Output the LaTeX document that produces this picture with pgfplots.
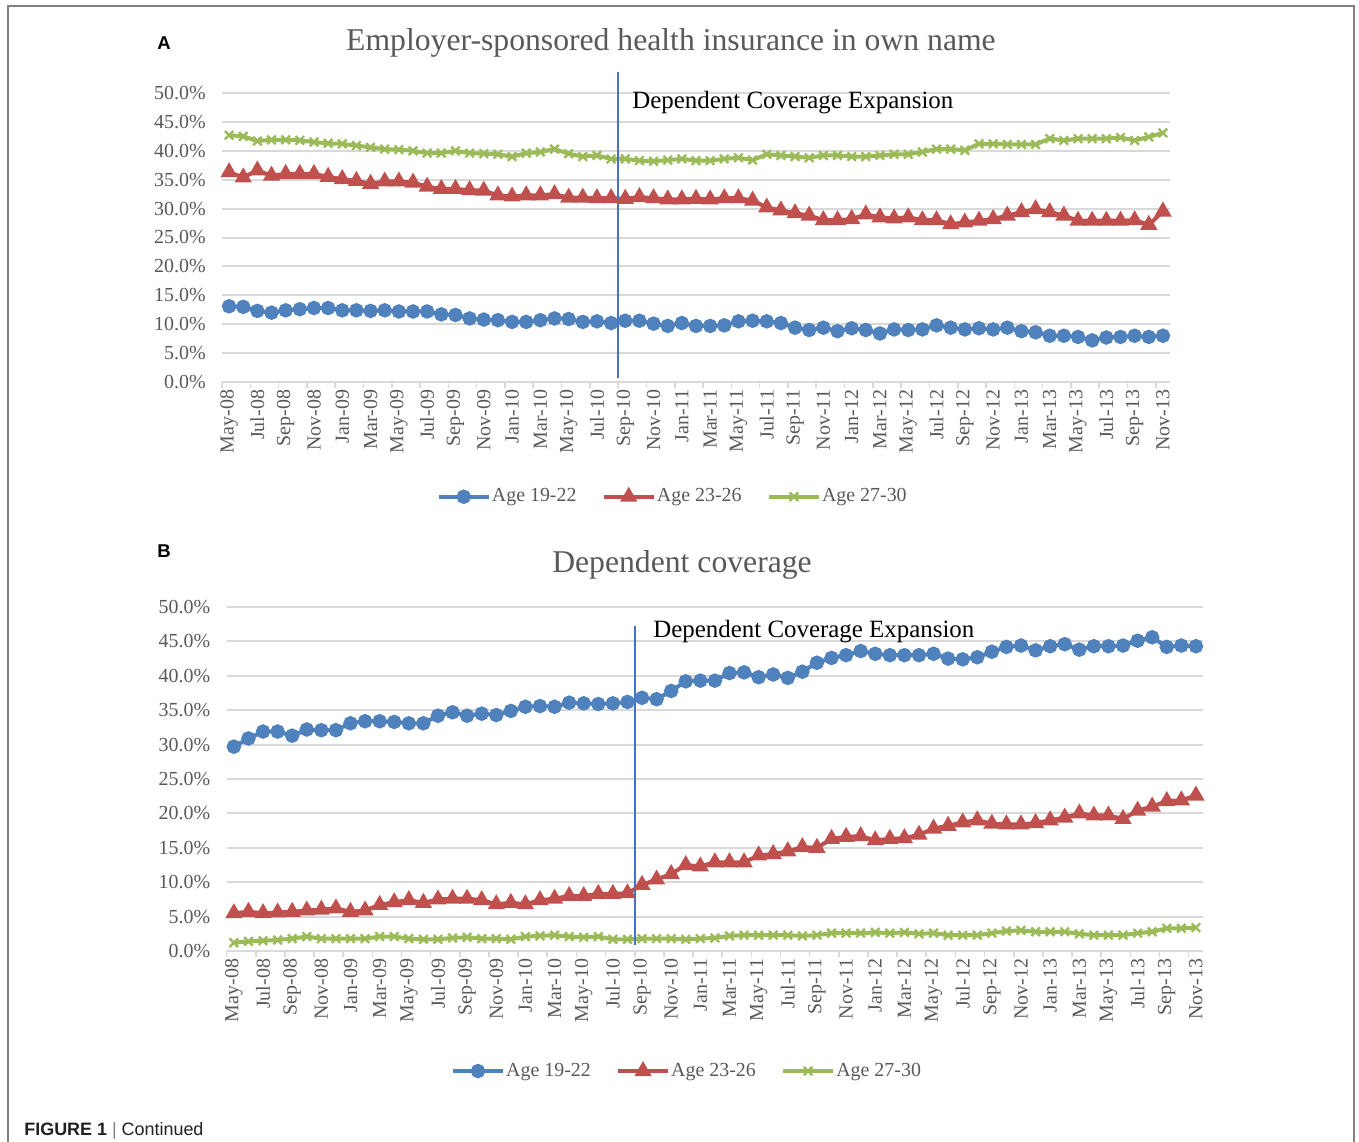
\documentclass[border=0pt]{standalone}
\usepackage{fontspec}
\setmainfont{Liberation Serif}
\setsansfont{Liberation Sans}
\usepackage{pgfplots}
\usepackage{pgfplotstable}
\pgfplotsset{compat=1.18}

\definecolor{ser1}{HTML}{4F81BD}
\definecolor{ser2}{HTML}{C0504D}
\definecolor{ser3}{HTML}{9BBB59}
\definecolor{gridc}{HTML}{D9D9D9}
\definecolor{txt}{HTML}{595959}
\definecolor{vline}{HTML}{4472C4}
\definecolor{framec}{HTML}{808080}
\definecolor{captc}{HTML}{231F20}

% month index 0 = May-08 ... 66 = Nov-13; values in percent
% a = Age 19-22, b = Age 23-26, c = Age 27-30
\pgfplotstableread{
i a b c
0 13.1 36.3 42.7
1 13.0 35.4 42.5
2 12.3 36.6 41.7
3 12.0 35.7 41.9
4 12.4 36.0 41.9
5 12.6 36.0 41.8
6 12.8 36.0 41.5
7 12.8 35.5 41.3
8 12.4 35.1 41.2
9 12.4 34.8 40.9
10 12.3 34.3 40.6
11 12.4 34.7 40.3
12 12.2 34.7 40.2
13 12.2 34.5 40.0
14 12.2 33.8 39.6
15 11.7 33.4 39.6
16 11.6 33.4 40.0
17 11.0 33.2 39.6
18 10.8 33.1 39.5
19 10.7 32.3 39.4
20 10.4 32.1 39.0
21 10.4 32.3 39.6
22 10.7 32.3 39.8
23 11.0 32.5 40.3
24 10.9 31.9 39.5
25 10.4 31.9 39.0
26 10.5 31.8 39.2
27 10.2 31.8 38.6
28 10.6 31.7 38.6
29 10.6 32.0 38.3
30 10.1 31.8 38.2
31 9.7 31.6 38.4
32 10.2 31.6 38.6
33 9.7 31.7 38.3
34 9.7 31.6 38.3
35 9.8 31.8 38.6
36 10.5 31.8 38.8
37 10.6 31.4 38.4
38 10.5 30.2 39.4
39 10.2 29.7 39.2
40 9.4 29.2 39.0
41 9.0 28.8 38.8
42 9.4 28.0 39.2
43 8.8 28.0 39.2
44 9.3 28.2 39.0
45 9.0 29.0 39.0
46 8.4 28.5 39.2
47 9.1 28.3 39.4
48 9.0 28.5 39.4
49 9.1 28.0 39.8
50 9.8 28.0 40.3
51 9.4 27.3 40.3
52 9.1 27.6 40.1
53 9.3 27.9 41.2
54 9.1 28.2 41.2
55 9.4 28.8 41.1
56 8.8 29.4 41.1
57 8.6 29.9 41.1
58 8.0 29.4 42.1
59 8.0 28.8 41.8
60 7.8 27.9 42.1
61 7.2 27.9 42.1
62 7.7 27.9 42.1
63 7.8 27.9 42.3
64 8.0 28.0 41.8
65 7.8 27.2 42.4
66 8.0 29.5 43.1
}\panelA

\pgfplotstableread{
i a b c
0 29.7 5.5 1.2
1 30.9 5.7 1.4
2 31.9 5.5 1.5
3 31.9 5.6 1.6
4 31.3 5.7 1.8
5 32.2 5.9 2.1
6 32.1 6.0 1.8
7 32.1 6.2 1.8
8 33.1 5.7 1.8
9 33.4 5.9 1.8
10 33.4 6.7 2.1
11 33.3 7.1 2.1
12 33.1 7.4 1.8
13 33.1 7.0 1.7
14 34.2 7.5 1.7
15 34.7 7.6 1.9
16 34.2 7.6 2.0
17 34.5 7.4 1.8
18 34.3 6.8 1.8
19 34.9 7.0 1.7
20 35.5 6.8 2.1
21 35.6 7.4 2.2
22 35.5 7.6 2.3
23 36.1 8.0 2.1
24 36.0 8.0 2.0
25 35.9 8.3 2.1
26 36.0 8.3 1.7
27 36.2 8.4 1.7
28 36.8 9.6 1.8
29 36.6 10.4 1.8
30 37.8 11.2 1.8
31 39.2 12.5 1.7
32 39.3 12.3 1.8
33 39.3 12.9 1.9
34 40.4 12.9 2.2
35 40.5 12.9 2.3
36 39.8 13.9 2.3
37 40.2 14.1 2.3
38 39.7 14.5 2.3
39 40.6 15.1 2.2
40 41.9 15.0 2.3
41 42.6 16.3 2.6
42 43.0 16.6 2.6
43 43.6 16.7 2.6
44 43.2 16.1 2.7
45 43.0 16.3 2.6
46 43.0 16.4 2.7
47 43.0 16.9 2.5
48 43.2 17.8 2.6
49 42.5 18.2 2.3
50 42.4 18.7 2.3
51 42.7 19.0 2.3
52 43.5 18.5 2.6
53 44.2 18.4 2.9
54 44.4 18.4 3.0
55 43.7 18.6 2.8
56 44.3 19.0 2.8
57 44.6 19.4 2.8
58 43.8 20.0 2.5
59 44.3 19.7 2.3
60 44.3 19.7 2.3
61 44.4 19.2 2.3
62 45.1 20.4 2.6
63 45.6 21.0 2.8
64 44.2 21.8 3.3
65 44.4 21.9 3.3
66 44.3 22.6 3.4
}\panelB

\pgfplotsset{
  panel/.style={
    scale only axis, anchor=south west, clip=false,
    xmin=-0.5, xmax=66.5, ymin=0, ymax=50,
    xtick={0,2,...,66},
    xticklabels={May-08,Jul-08,Sep-08,Nov-08,Jan-09,Mar-09,May-09,Jul-09,Sep-09,Nov-09,
      Jan-10,Mar-10,May-10,Jul-10,Sep-10,Nov-10,Jan-11,Mar-11,May-11,Jul-11,Sep-11,Nov-11,
      Jan-12,Mar-12,May-12,Jul-12,Sep-12,Nov-12,Jan-13,Mar-13,May-13,Jul-13,Sep-13,Nov-13},
    minor xtick={-0.5,1.5,...,65.5},
    ytick={0,5,...,50},
    yticklabel={\pgfmathprintnumber[fixed,fixed zerofill,precision=1]{\tick}\%},
    /pgf/number format/assume math mode=true,
    axis lines*=left,
    y axis line style={draw=none},
    x axis line style={draw=gridc, line width=1bp},
    ymajorgrids, major grid style={draw=gridc, line width=1bp},
    major tick length=0pt, minor tick length=3bp,
    xtick align=outside,
    minor tick style={draw=gridc, line width=0.8bp},
    tick label style={font=\fontsize{10}{12}\selectfont, text=txt},
    xticklabel style={rotate=90, anchor=east, inner sep=3.8bp},
    yticklabel style={inner sep=0pt, xshift=-8bp},
    legend columns=3,
    legend style={draw=none, fill=none, anchor=center,
      font=\fontsize{10}{12}\selectfont, text=txt,
      nodes={inner xsep=0.6bp},
      /tikz/every even column/.append style={column sep=12bp}},
    legend cell align=left,
    legend image code/.code={
      \draw[mark repeat=2, mark phase=2] plot coordinates {(0bp,0bp) (12.5bp,0bp) (25bp,0bp)};},
  },
  s1/.style={color=ser1, line width=2bp, mark=*, mark size=2.6bp, mark options={solid}},
  s2/.style={color=ser2, line width=2bp, mark=triangle*, mark size=3bp, mark options={solid}},
  s3/.style={color=ser3, line width=2bp, mark=x, mark size=3bp, mark options={solid, line width=1.2bp}},
}

\begin{document}
\begin{tikzpicture}
\path[use as bounding box] (0,0) rectangle (679.5bp,-571bp);
\draw[framec, line width=0.8bp] (4bp,-571bp) -- (4bp,-3bp) -- (677bp,-3bp) -- (677bp,-571bp);

% panel A
\node[anchor=base west, inner sep=0, font=\sffamily\bfseries\fontsize{9.3}{11}\selectfont] at (78.5bp,-24.5bp) {A};
\node[font=\fontsize{15.9}{18}\selectfont, text=txt] at (335.5bp,-21.5bp) {Employer-sponsored health insurance in own name};
\begin{axis}[panel, at={(111bp,-191bp)}, width=474bp, height=144.5bp,
  legend style={at={(0.475,-0.397)}}]
\addplot[s1] table[x=i, y=a] {\panelA};
\addplot[s2] table[x=i, y=b] {\panelA};
\addplot[s3] table[x=i, y=c] {\panelA};
\addplot[vline, line width=0.8bp, no marks, forget plot] coordinates {(27.5,0.7) (27.5,53.6)};
\legend{Age 19-22, Age 23-26, Age 27-30}
\end{axis}
\node[anchor=west, inner sep=0, font=\fontsize{12.5}{15}\selectfont] at (316bp,-51.5bp) {Dependent Coverage Expansion};

% panel B
\node[anchor=base west, inner sep=0, font=\sffamily\bfseries\fontsize{9.3}{11}\selectfont] at (78.5bp,-278.5bp) {B};
\node[font=\fontsize{15.9}{18}\selectfont, text=txt] at (341bp,-282.5bp) {Dependent coverage};
\begin{axis}[panel, at={(113.3bp,-475.5bp)}, width=488.3bp, height=172bp,
  legend style={at={(0.471,-0.349)}}]
\addplot[s1] table[x=i, y=a] {\panelB};
\addplot[s2] table[x=i, y=b] {\panelB};
\addplot[s3] table[x=i, y=c] {\panelB};
\addplot[vline, line width=0.8bp, no marks, forget plot] coordinates {(27.5,0.9) (27.5,47.2)};
\legend{Age 19-22, Age 23-26, Age 27-30}
\end{axis}
\node[anchor=west, inner sep=0, font=\fontsize{12.5}{15}\selectfont] at (326.5bp,-316bp) {Dependent Coverage Expansion};

% caption
\node[anchor=base west, inner sep=0, font=\sffamily\fontsize{9}{11}\selectfont, text=captc] at (12bp,-567.5bp)
  {\textbf{FIGURE 1} {\color{framec}|} Continued};
\end{tikzpicture}
\end{document}
